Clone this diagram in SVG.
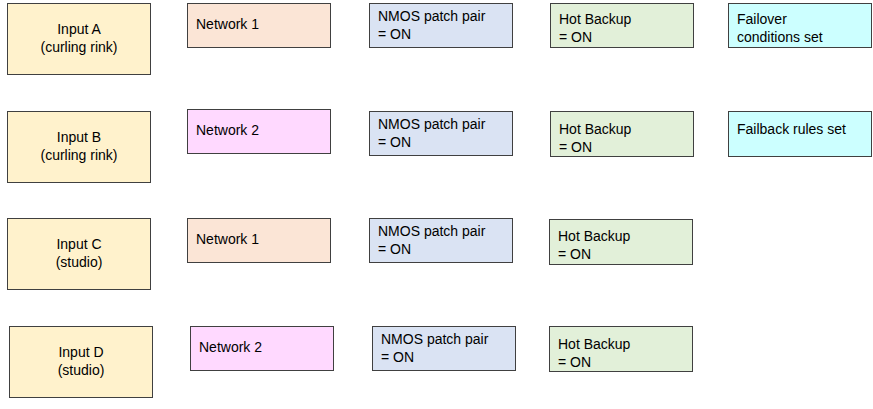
<svg xmlns="http://www.w3.org/2000/svg" width="873" height="409" viewBox="0 0 873 409">
<style>
rect{stroke:#404040;stroke-width:1}
text{font-family:"Liberation Sans",Arial,sans-serif;font-size:14px;fill:#000}
.c{text-anchor:middle}
.in{fill:#FFF2CC}.n1{fill:#FBE5D6}.n2{fill:#FFD9FF}.nm{fill:#DAE3F3}.hb{fill:#E2F0D9}.fo{fill:#CCFFFF}
</style>
<rect width="873" height="409" fill="#fff" style="stroke:none"/>
<g id="inA"><rect class="in" x="7.5" y="3.5" width="143" height="71"/><text class="c" x="79" y="34">Input A</text><text class="c" x="79" y="52">(curling rink)</text></g>
<g id="net1a"><rect class="n1" x="187.5" y="3.5" width="143" height="44"/><text x="196" y="29">Network 1</text></g>
<g id="nmos1"><rect class="nm" x="369.5" y="3.5" width="143" height="44"/><text x="378" y="21">NMOS patch pair</text><text x="378" y="39">= ON</text></g>
<g id="hb1"><rect class="hb" x="550.5" y="3.5" width="143" height="44"/><text x="559" y="24">Hot Backup</text><text x="559" y="42">= ON</text></g>
<g id="failover"><rect class="fo" x="728.5" y="3.5" width="143" height="44"/><text x="737" y="24">Failover</text><text x="737" y="42">conditions set</text></g>

<g id="inB"><rect class="in" x="7.5" y="111.5" width="143" height="71"/><text class="c" x="79" y="142">Input B</text><text class="c" x="79" y="160">(curling rink)</text></g>
<g id="net2a"><rect class="n2" x="187.5" y="109.5" width="143" height="44"/><text x="196" y="135">Network 2</text></g>
<g id="nmos2"><rect class="nm" x="369.5" y="111.5" width="143" height="44"/><text x="378" y="129">NMOS patch pair</text><text x="378" y="147">= ON</text></g>
<g id="hb2"><rect class="hb" x="550.5" y="111.5" width="143" height="45"/><text x="559" y="134">Hot Backup</text><text x="559" y="152">= ON</text></g>
<g id="failback"><rect class="fo" x="728.5" y="111.5" width="143" height="45"/><text x="737" y="134">Failback rules set</text></g>

<g id="inC"><rect class="in" x="7.5" y="218.5" width="143" height="71"/><text class="c" x="79" y="249">Input C</text><text class="c" x="79" y="267">(studio)</text></g>
<g id="net1b"><rect class="n1" x="187.5" y="218.5" width="143" height="44"/><text x="196" y="244">Network 1</text></g>
<g id="nmos3"><rect class="nm" x="369.5" y="218.5" width="143" height="44"/><text x="378" y="236">NMOS patch pair</text><text x="378" y="254">= ON</text></g>
<g id="hb3"><rect class="hb" x="549.5" y="219.5" width="143" height="45"/><text x="558" y="241">Hot Backup</text><text x="558" y="259">= ON</text></g>

<g id="inD"><rect class="in" x="9.5" y="326.5" width="143" height="71"/><text class="c" x="81" y="357">Input D</text><text class="c" x="81" y="375">(studio)</text></g>
<g id="net2b"><rect class="n2" x="190.5" y="326.5" width="143" height="44"/><text x="199" y="352">Network 2</text></g>
<g id="nmos4"><rect class="nm" x="372.5" y="326.5" width="143" height="44"/><text x="381" y="344">NMOS patch pair</text><text x="381" y="362">= ON</text></g>
<g id="hb4"><rect class="hb" x="549.5" y="326.5" width="143" height="45"/><text x="558" y="349">Hot Backup</text><text x="558" y="367">= ON</text></g>
<g id="connectors"/>
</svg>
